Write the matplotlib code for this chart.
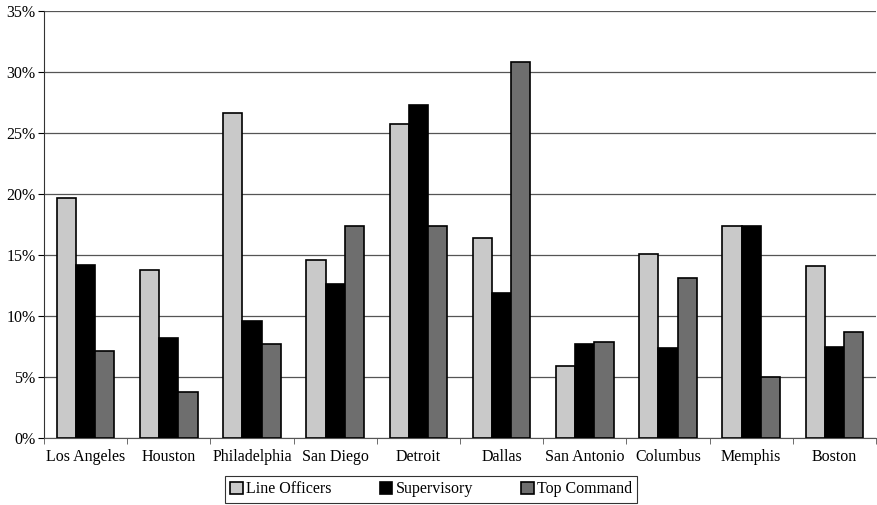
import matplotlib
matplotlib.use("Agg")
import matplotlib.pyplot as plt
import numpy as np
from matplotlib.ticker import FuncFormatter, FixedLocator

cities = ["Los Angeles", "Houston", "Philadelphia", "San Diego", "Detroit",
          "Dallas", "San Antonio", "Columbus", "Memphis", "Boston"]
line_officers = [19.7, 13.8, 26.6, 14.6, 25.7, 16.4, 5.9, 15.1, 17.4, 14.1]
supervisory = [14.2, 8.2, 9.6, 12.6, 27.3, 11.9, 7.7, 7.4, 17.4, 7.5]
top_command = [7.1, 3.8, 7.7, 17.4, 17.4, 30.8, 7.9, 13.1, 5.0, 8.7]
series_names = ["Line Officers", "Supervisory", "Top Command"]

plt.rcParams['font.family'] = ['Liberation Serif', 'DejaVu Serif']

fig = plt.figure(figsize=(8.78, 5.05), dpi=100)
ax = fig.add_axes([44/878, 1-438/505, 832/878, (438-11)/505])

x = np.arange(len(cities))
w = 0.23
colors = ["#c9c9c9", "#000000", "#6e6e6e"]
for i, (vals, c, name) in enumerate(zip([line_officers, supervisory, top_command], colors, series_names)):
    ax.bar(x + (i-1)*w, vals, w, color=c, edgecolor="black", linewidth=1.2, label=name, zorder=3)

ax.set_xlim(-0.5, len(cities)-0.5)
ax.set_ylim(0, 35)
ax.set_yticks(np.arange(0, 36, 5))
ax.yaxis.set_major_formatter(FuncFormatter(lambda v, p: f"{int(v)}%"))
ax.grid(axis="y", color="#555555", linewidth=0.9, zorder=0)
ax.set_xticks(x)
ax.set_xticklabels(cities, fontsize=11.5)
ax.tick_params(axis="x", length=0, pad=8)
ax.xaxis.set_minor_locator(FixedLocator(np.arange(-0.5, len(cities), 1)))
ax.tick_params(axis="x", which="minor", length=4, color="#555555")
ax.tick_params(axis="y", labelsize=11.5, length=4, pad=2)
for s in ["top", "right"]:
    ax.spines[s].set_visible(False)
ax.spines["left"].set_color("#333333")
ax.spines["bottom"].set_color("#555555")

leg = fig.legend(loc="lower center", bbox_to_anchor=(431/878, -0.012), ncol=3, frameon=True,
                 fancybox=False, edgecolor="black", fontsize=11.5, handlelength=0.8,
                 handleheight=0.8, handletextpad=0.2, columnspacing=3.0, borderpad=0.35)
leg.get_frame().set_linewidth(0.8)

fig.savefig("out.png", dpi=100)
